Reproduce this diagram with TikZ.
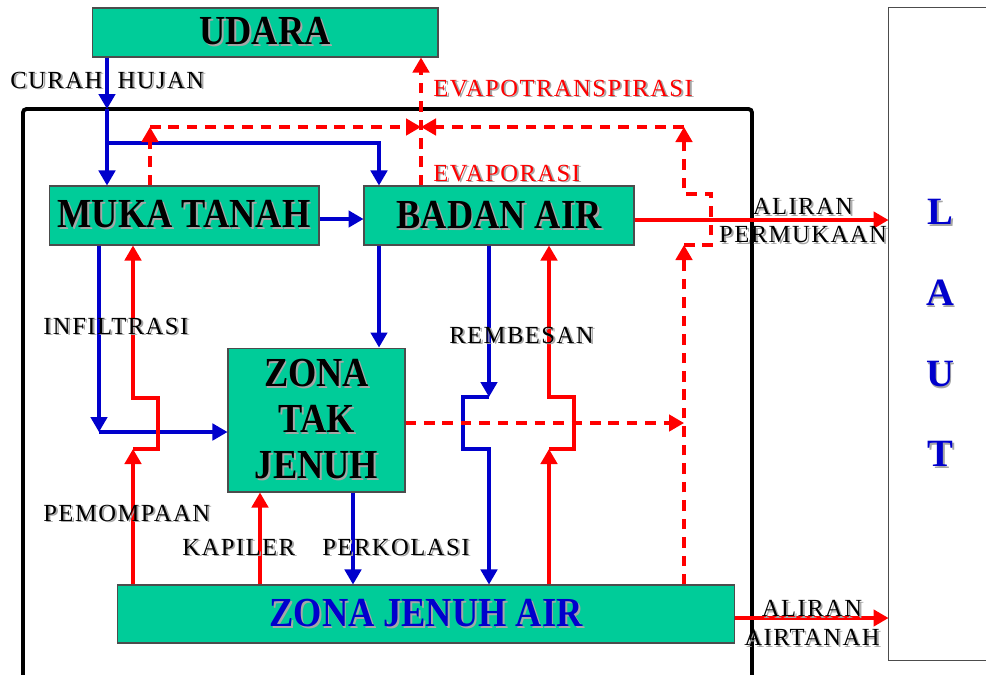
\documentclass[tikz,border=0pt]{standalone}
\usepackage{fontspec}
\setmainfont{Liberation Serif}
\newfontfamily\lblfont[LetterSpace=6]{Liberation Serif}
\newfontfamily\boxfont[FakeStretch=0.88]{Liberation Serif}
\usetikzlibrary{arrows.meta,positioning}
\definecolor{zona-green}{HTML}{00CC99}
\definecolor{flow-blue}{HTML}{0000CC}
\definecolor{flow-red}{HTML}{FF0000}
\newcommand{\shd}[1]{\makebox[0pt][l]{\textcolor{black!35}{\hspace{1.1pt}\raisebox{-1.1pt}{#1}}}#1}

\begin{document}
\begin{tikzpicture}[
    x=0.02cm, y=-0.02cm,
    box/.style={rectangle, draw=black!70, line width=0.6pt, fill=zona-green, align=center,
                inner sep=0pt, font=\boxfont\bfseries\fontsize{23.5}{26}\selectfont},
    lbl/.style={inner sep=0pt, font=\lblfont\fontsize{14}{16.4}\selectfont},
    biru/.style={draw=flow-blue, line width=1.8pt},
    merah/.style={draw=flow-red, line width=1.8pt},
    putus/.style={merah, dash pattern=on 6pt off 4.5pt},
    panah/.style={-{Triangle[length=3mm,width=3.3mm]}},
    node distance=0.88cm
]
  \path[use as bounding box, fill=white] (0,0) rectangle (986,674);

  % Daratan frame
  \draw[line width=2.2pt, rounded corners=2pt] (23,700) -- (23,109) -- (752,109) -- (752,700);

  % Udara
  \node[box, minimum width=6.92cm, minimum height=0.98cm] (udara) at (265,32.5) {\shd{UDARA}};

  % Muka tanah
  \node[box, minimum width=5.4cm, minimum height=1.18cm] (muka) at (184,215.5) {\shd{MUKA TANAH}};

  % Badan air
  \node[box, minimum width=5.4cm, minimum height=1.18cm, right=of muka] (badan) {\shd{BADAN AIR}};

  % Zona tak jenuh
  \node[box, minimum width=3.54cm, minimum height=2.88cm] (ztj) at (316.5,420)
       {\shd{ZONA}\\\shd{TAK}\\\shd{JENUH}};

  % Zona jenuh air
  \node[box, minimum width=12.36cm, minimum height=1.16cm, text=flow-blue] (zja) at (426,614)
       {\shd{ZONA JENUH AIR}};

  % Laut
  \node[box, draw=none, fill=none, text=flow-blue, minimum width=2.04cm, minimum height=13.04cm,
        font=\bfseries\fontsize{22}{46}\selectfont] (laut) at (940,334)
       {\shd{L}\\\shd{A}\\\shd{U}\\\shd{T}};
  \draw[black!70, line width=0.6pt] (laut.north east) -- (laut.north west) -- (laut.south west) -- (laut.south east);

  % Titik bantu
  \coordinate (hujan) at (107,109);
  \coordinate (cabang) at (107,143);
  \coordinate (infil) at (99,432);
  \coordinate (pompa1) at (133,449);
  \coordinate (pompa2) at (133,398);
  \coordinate (remb1) at (489,397);
  \coordinate (remb2) at (489,449);
  \coordinate (naik1) at (549,449);
  \coordinate (naik2) at (549,397);
  \coordinate (uap) at (684,423);
  \coordinate (uap1) at (684,245);
  \coordinate (uap2) at (684,194);
  \coordinate (uap3) at (684,127);
  \coordinate (uap4) at (150,127);
  \coordinate (temu) at (421,127);

  % Curah hujan
  \draw[biru, panah] (udara.south -| hujan) -- (hujan);
  \draw[biru, panah] (hujan) -- (muka.north -| hujan);
  \draw[biru, panah] (cabang) -| (badan.north -| 379,0);
  \draw[biru, panah] (muka.east |- 0,219) -- (badan.west |- 0,219);

  % Infiltrasi, perkolasi, rembesan
  \draw[biru, panah] (muka.south -| infil) -- (infil);
  \draw[biru, panah] (infil) -- (ztj.west |- infil);
  \draw[biru, panah] (badan.south -| 379,0) -- (ztj.north -| 379,0);
  \draw[biru, panah] (ztj.south -| 353,0) -- (zja.north -| 353,0);
  \draw[biru, panah] (badan.south -| remb1) -- (remb1);
  \draw[biru, panah] (remb1) -- (463,397) -- (463,449) -- (remb2) -- (zja.north -| remb2);

  % Pemompaan, kapiler
  \draw[merah, panah] (zja.north -| pompa1) -- (pompa1);
  \draw[merah, panah] (pompa1) -- (158,449) -- (158,398) -- (pompa2) -- (muka.south -| pompa2);
  \draw[merah, panah] (zja.north -| 260,0) -- (ztj.south -| 260,0);
  \draw[merah, panah] (zja.north -| naik1) -- (naik1);
  \draw[merah, panah] (naik1) -- (574,449) -- (574,397) -- (naik2) -- (badan.south -| naik2);

  % Evaporasi
  \draw[putus, panah] (ztj.east |- uap) -- (uap);
  \draw[putus, panah] (zja.north -| uap1) -- (uap1);
  \draw[putus, panah] (uap1) -- (711,245) -- (711,194) -- (uap2) -- (uap3);
  \draw[putus, panah] (uap3) -- (temu);
  \draw[putus, panah] (muka.north -| uap4) -- (uap4);
  \draw[putus, panah] (uap4) -- (temu);
  \draw[putus, panah] (badan.north -| temu) -- (udara.south -| temu);

  % Aliran ke laut
  \draw[merah, panah] (badan.east |- 0,220) -- (laut.west |- 0,220);
  \draw[merah, panah] (zja.east |- 0,618) -- (laut.west |- 0,618);

  % Labels
  \node[lbl, anchor=base west] (lcurah) at (10,88) {\shd{CURAH\ \ HUJAN}};
  \node[lbl, anchor=base west, text=flow-red] (ltrans) at (433,96) {\shd{EVAPOTRANSPIRASI}};
  \node[lbl, anchor=base west, text=flow-red] (levap) at (433,181) {\shd{EVAPORASI}};
  \node[lbl, anchor=base west] (linfil) at (43,334) {\shd{INFILTRASI}};
  \node[lbl, anchor=base west] (lpompa) at (43,521) {\shd{PEMOMPAAN}};
  \node[lbl, anchor=base west] (lkapil) at (182,555) {\shd{KAPILER}};
  \node[lbl, anchor=base west] (lperk) at (322,555) {\shd{PERKOLASI}};
  \node[lbl, anchor=base west] (lremb) at (449,343) {\shd{REMBESAN}};
  \node[lbl, align=center] (lpermukaan) at (803,221.5) {\shd{ALIRAN}\\\shd{PERMUKAAN}};
  \node[lbl, align=center] (lairtanah) at (812,623.5) {\shd{ALIRAN}\\\shd{AIRTANAH}};

\end{tikzpicture}
\end{document}
